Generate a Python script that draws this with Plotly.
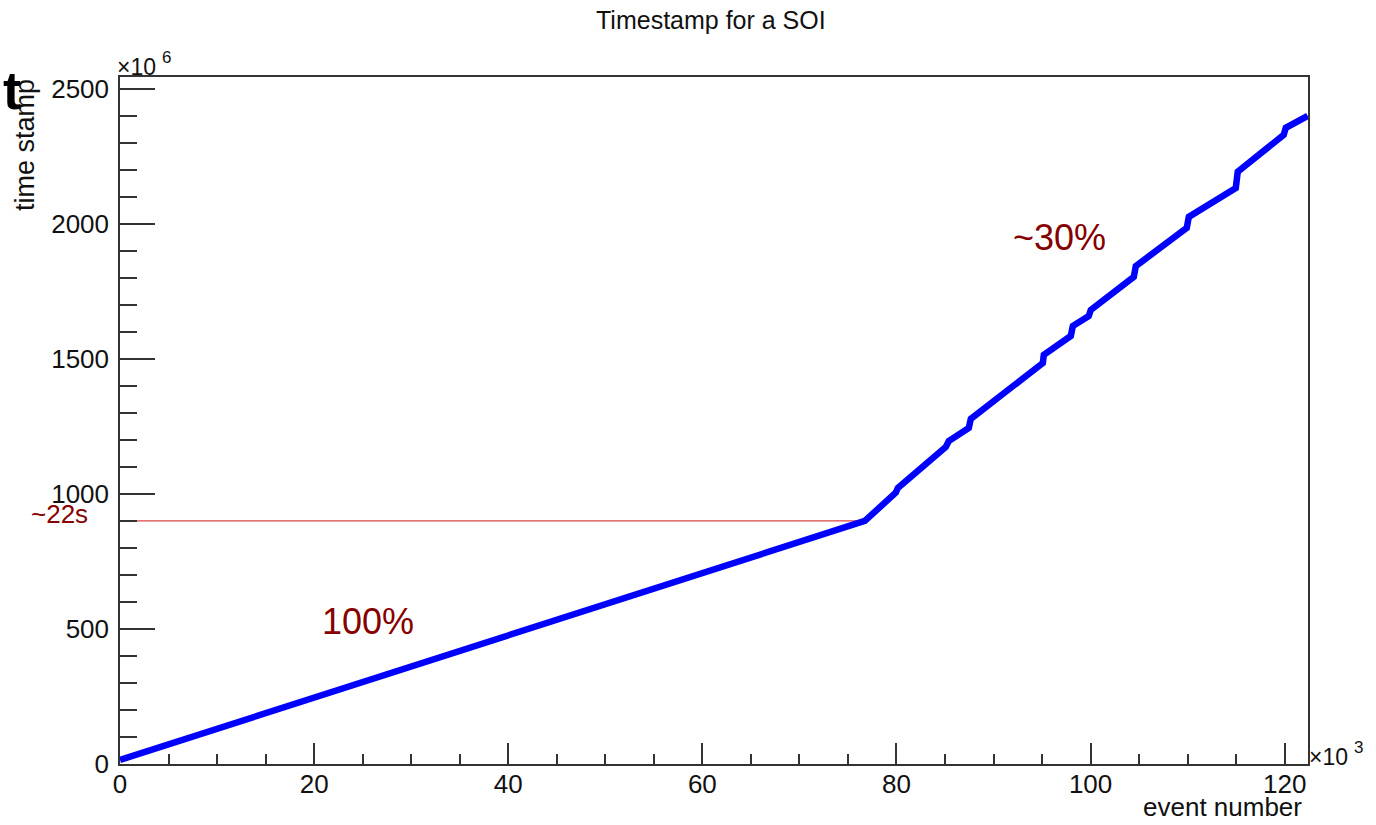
import plotly.graph_objects as go

# Event number (thousands) and time stamp (millions of ticks) along the run
event_k = [0.0, 76.74, 79.93, 80.14, 85.08, 85.39, 87.45, 87.66, 95.08, 95.18,
           97.96, 98.17, 99.81, 100.02, 104.45, 104.66, 109.91, 110.12,
           114.96, 115.16, 119.90, 120.11, 122.37]
stamp_m = [15, 900, 1005, 1022, 1174, 1196, 1244, 1278, 1485, 1515,
           1585, 1622, 1659, 1681, 1804, 1844, 1985, 2026,
           2133, 2193, 2330, 2356, 2400]

# Point where the rate changes (end of the 100% part)
kink_event = event_k[1]
kink_stamp = stamp_m[1]

x_ticks = [0, 20, 40, 60, 80, 100, 120]
y_ticks = [0, 500, 1000, 1500, 2000, 2500]

X_MAX = 122.4
Y_MAX = 2544

FONT = "Liberation Sans"
DARK_RED = "rgb(135,0,0)"

# plot frame in pixels
L, R, T, B = 120, 1308, 77, 764
W, H = 1376, 825


def px_x(p):
    return (p - L) / (R - L)


def px_y(p):
    return (B - p) / (B - T)


fig = go.Figure()

fig.add_trace(go.Scatter(
    x=[0, kink_event], y=[kink_stamp, kink_stamp],
    mode="lines", line=dict(color="rgb(220,70,70)", width=1.3),
    hoverinfo="skip", showlegend=False,
))

fig.add_trace(go.Scatter(
    x=event_k, y=stamp_m,
    mode="lines", line=dict(color="#0000ff", width=6.5),
    showlegend=False,
))

axis_common = dict(
    showgrid=False, zeroline=False,
    showline=True, linecolor="#333333", linewidth=1.5, mirror=True,
    ticks="inside", tickcolor="#333333", tickwidth=1.5,
    tickfont=dict(family=FONT, size=26, color="#111111"),
)

fig.update_xaxes(
    range=[0, X_MAX], tickvals=x_ticks, ticktext=[str(v) for v in x_ticks],
    ticklen=21,
    minor=dict(ticks="inside", ticklen=10, dtick=5, tick0=0,
               tickcolor="#333333", tickwidth=1.5),
    ticklabelstandoff=-4,
    **axis_common,
)
fig.update_yaxes(
    range=[0, Y_MAX], tickvals=y_ticks, ticktext=[str(v) for v in y_ticks],
    ticklen=35,
    minor=dict(ticks="inside", ticklen=17, dtick=100, tick0=0,
               tickcolor="#333333", tickwidth=1.5),
    ticklabelstandoff=4,
    **axis_common,
)

annotations = [
    # title
    dict(text="Timestamp for a SOI", x=px_x(711), y=px_y(20),
         font=dict(family=FONT, size=25, color="#111111")),
    # axis titles
    dict(text="event number", x=px_x(1304), y=px_y(824), xanchor="right",
         yanchor="bottom", font=dict(family=FONT, size=26, color="#111111")),
    dict(text="time stamp", x=px_x(25), y=px_y(145), textangle=-90,
         font=dict(family=FONT, size=27, color="#111111")),
    # exponent markers
    dict(text="\u00d710", x=px_x(115), y=px_y(67), xanchor="left",
         font=dict(family=FONT, size=23, color="#111111")),
    dict(text="6", x=px_x(160), y=px_y(58), xanchor="left",
         font=dict(family=FONT, size=17, color="#111111")),
    dict(text="\u00d710", x=px_x(1307), y=px_y(757), xanchor="left",
         font=dict(family=FONT, size=23, color="#111111")),
    dict(text="3", x=px_x(1352), y=px_y(747), xanchor="left",
         font=dict(family=FONT, size=17, color="#111111")),
    # stray bold glyph at the top left
    dict(text="<b>t</b>", x=px_x(12), y=px_y(90),
         font=dict(family=FONT, size=54, color="#000000")),
    # rate labels
    dict(text="~22s", x=px_x(29), y=926, yref="y", xanchor="left",
         font=dict(family=FONT, size=26, color=DARK_RED)),
]
for a in annotations:
    a.setdefault("xref", "paper")
    a.setdefault("yref", "paper")
    a.setdefault("xanchor", "center")
    a.setdefault("yanchor", "middle")
    a["showarrow"] = False

annotations += [
    dict(text="100%", x=25.5, y=526, xref="x", yref="y", showarrow=False,
         font=dict(family=FONT, size=36, color=DARK_RED)),
    dict(text="~30%", x=96.8, y=1948, xref="x", yref="y", showarrow=False,
         font=dict(family=FONT, size=36, color=DARK_RED)),
]

fig.update_layout(
    width=W, height=H,
    margin=dict(l=L, r=W - R, t=T, b=H - B),
    paper_bgcolor="white", plot_bgcolor="white",
    annotations=annotations,
    showlegend=False,
)

fig.write_html("out.html")
